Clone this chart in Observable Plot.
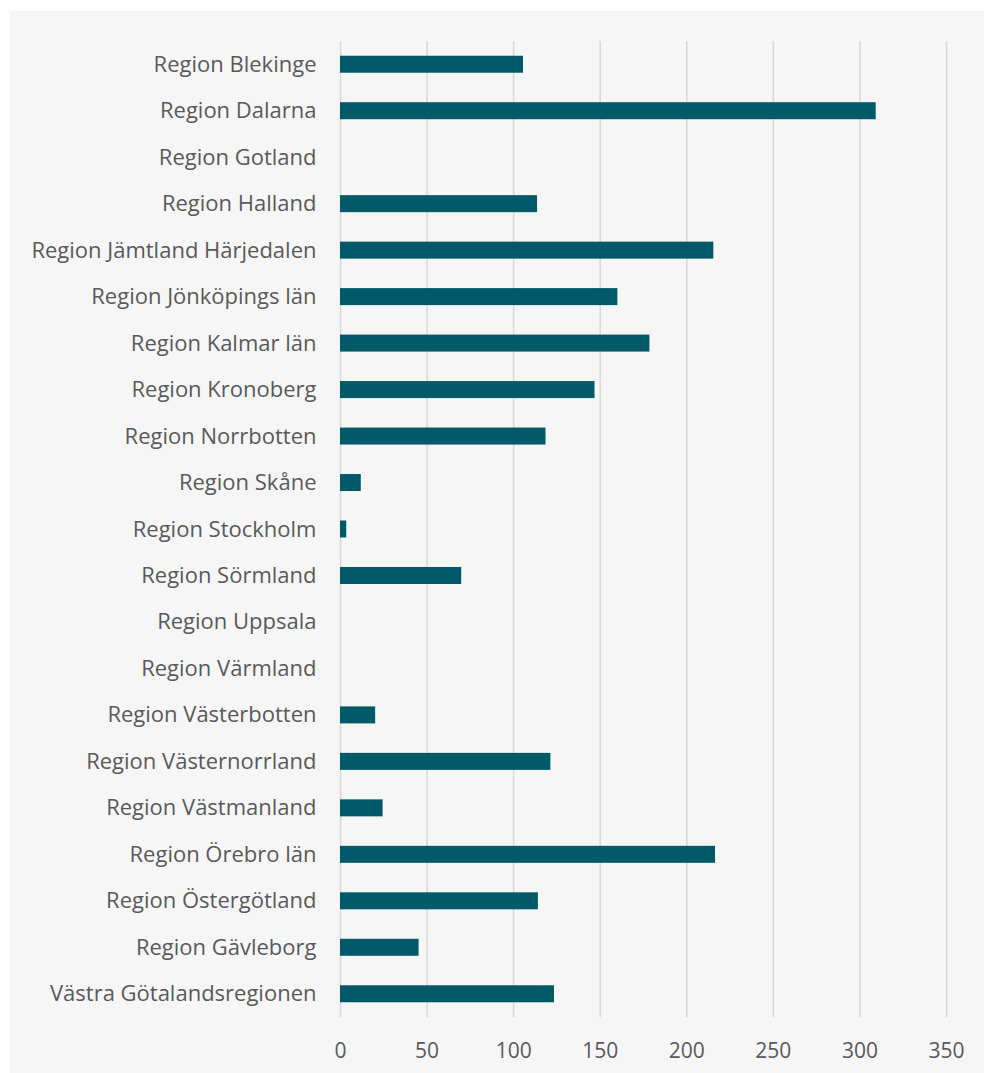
<!DOCTYPE html>
<html>
<head>
<meta charset="utf-8">
<script src="https://cdn.jsdelivr.net/npm/d3@7"></script>
<script src="https://cdn.jsdelivr.net/npm/@observablehq/plot@0.6"></script>
<style>
  html, body { margin: 0; padding: 0; background: #ffffff; }
  #panel {
    position: absolute; left: 10px; top: 11px;
    width: 974px; height: 1062px;
    background: #f6f6f6;
  }
  #panel svg { display: block; }
</style>
</head>
<body>
<div id="panel"></div>
<script>
const regions = [
  "Region Blekinge",
  "Region Dalarna",
  "Region Gotland",
  "Region Halland",
  "Region Jämtland Härjedalen",
  "Region Jönköpings län",
  "Region Kalmar län",
  "Region Kronoberg",
  "Region Norrbotten",
  "Region Skåne",
  "Region Stockholm",
  "Region Sörmland",
  "Region Uppsala",
  "Region Värmland",
  "Region Västerbotten",
  "Region Västernorrland",
  "Region Västmanland",
  "Region Örebro län",
  "Region Östergötland",
  "Region Gävleborg",
  "Västra Götalandsregionen"
];
const values = [
  105.7, 309.4, 0, 113.8, 215.6, 160.2, 178.7, 147, 118.7, 12, 3.6, 70,
  0, 0, 20.3, 121.5, 24.6, 216.6, 114.3, 45.4, 123.6
];
const xTicks = [0, 50, 100, 150, 200, 250, 300, 350];

const data = regions.map((r, i) => ({ region: r, value: values[i] }));

const chart = Plot.plot({
  width: 974,
  height: 1062,
  marginLeft: 330,
  marginRight: 38,
  marginTop: 30,
  marginBottom: 56,
  style: {
    background: "transparent",
    fontFamily: "'Open Sans', sans-serif",
    fontSize: "22px",
    color: "#595959"
  },
  x: { domain: [0, 350], ticks: xTicks },
  y: { domain: regions, paddingInner: 0.634, paddingOuter: 0.317, align: 0.5, round: false },
  marks: [
    Plot.ruleX(xTicks, { stroke: "#d9d9d9", strokeWidth: 1.6 }),
    Plot.barX(data, { x: "value", y: "region", fill: "#025a69" }),
    Plot.axisX({ ticks: xTicks, tickSize: 0, tickPadding: 26, label: null, fontSize: 21, fill: "#595959" }),
    Plot.axisY({ tickSize: 0, tickPadding: 24, label: null, fontSize: 22, fill: "#595959" })
  ]
});
document.getElementById("panel").appendChild(chart);
</script>
</body>
</html>
